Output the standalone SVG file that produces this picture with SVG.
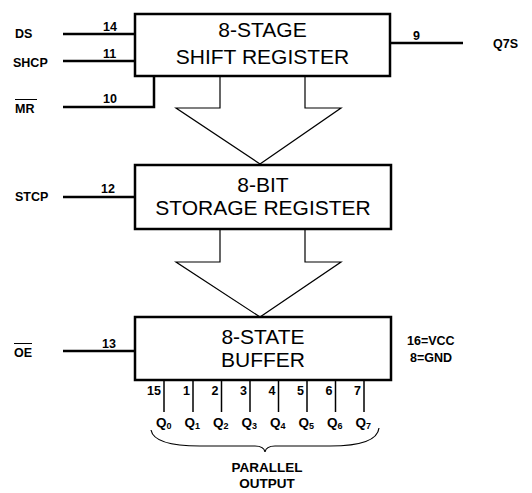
<svg xmlns="http://www.w3.org/2000/svg" width="532" height="493" viewBox="0 0 532 493">
<style>
.box{fill:#fff;stroke:#000;stroke-width:2.5}
.w{stroke:#000;stroke-width:2.5;fill:none}
.t{stroke:#000;stroke-width:1.2;fill:none}
.big{font-family:"Liberation Sans",Arial,sans-serif;font-size:21px;text-anchor:middle;fill:#000}
.lb{font-family:"Liberation Sans",Arial,sans-serif;font-size:12.5px;font-weight:bold;fill:#000}
.q{font-size:13.5px}
.sub{font-size:9px}
.po{font-size:13.5px}
.mid{text-anchor:middle}
.end{text-anchor:end}
</style>
<rect width="532" height="493" fill="#fff"/>
<g id="connectors">
  <line class="w" x1="63" y1="34" x2="135" y2="34"/>
  <line class="w" x1="63" y1="61" x2="135" y2="61"/>
  <polyline class="w" points="63,107 154,107 154,76"/>
  <line class="w" x1="390" y1="43" x2="463" y2="43"/>
  <line class="w" x1="63" y1="197" x2="135" y2="197"/>
  <line class="w" x1="63" y1="351" x2="135" y2="351"/>
  <polygon class="t" points="220,76 220,108 176,108 260,164 341,108 305,108 305,76"/>
  <polygon class="t" points="220,229 220,262 176,262 260,317 341,262 305,262 305,229"/>
  <g stroke="#000" stroke-width="1.5">
    <line x1="164" y1="380" x2="164" y2="412"/>
    <line x1="193" y1="380" x2="193" y2="412"/>
    <line x1="221.5" y1="380" x2="221.5" y2="412"/>
    <line x1="250" y1="380" x2="250" y2="412"/>
    <line x1="278.5" y1="380" x2="278.5" y2="412"/>
    <line x1="307" y1="380" x2="307" y2="412"/>
    <line x1="335.5" y1="380" x2="335.5" y2="412"/>
    <line x1="364" y1="380" x2="364" y2="412"/>
  </g>
  <path class="t" d="M151,430 Q154,446 200,446 L255,446 Q264,446 265,452 Q266,446 275,446 L330,446 Q377,446 379,428"/>
</g>
<g id="shift-register">
  <rect class="box" x="135" y="14" width="255" height="62"/>
  <text class="big" x="262.5" y="37">8-STAGE</text>
  <text class="big" x="262.5" y="64">SHIFT REGISTER</text>
</g>
<g id="storage-register">
  <rect class="box" x="135" y="165" width="256" height="64"/>
  <text class="big" x="263" y="191.5">8-BIT</text>
  <text class="big" x="263" y="215">STORAGE REGISTER</text>
</g>
<g id="buffer">
  <rect class="box" x="135" y="317" width="256" height="63"/>
  <text class="big" x="263" y="343.5">8-STATE</text>
  <text class="big" x="263" y="367">BUFFER</text>
</g>
<g id="labels">
  <text class="lb" x="15" y="38">DS</text>
  <text class="lb" x="13" y="67">SHCP</text>
  <text class="lb" x="15" y="113">MR</text>
  <line x1="15" y1="99.5" x2="37" y2="99.5" stroke="#000" stroke-width="1"/>
  <text class="lb" x="103" y="31">14</text>
  <text class="lb" x="103" y="58">11</text>
  <text class="lb" x="103" y="103">10</text>
  <text class="lb" x="413" y="40">9</text>
  <text class="lb" x="493" y="48">Q7S</text>
  <text class="lb" x="15" y="201">STCP</text>
  <text class="lb" x="101" y="193">12</text>
  <text class="lb" x="14" y="357">OE</text>
  <line x1="14" y1="343.5" x2="32" y2="343.5" stroke="#000" stroke-width="1"/>
  <text class="lb" x="102" y="348">13</text>
  <text class="lb" x="407" y="345">16=VCC</text>
  <text class="lb" x="410" y="362">8=GND</text>
  <text class="lb end" x="161" y="395">15</text>
  <text class="lb end" x="190" y="395">1</text>
  <text class="lb end" x="218.5" y="395">2</text>
  <text class="lb end" x="247" y="395">3</text>
  <text class="lb end" x="275.5" y="395">4</text>
  <text class="lb end" x="304" y="395">5</text>
  <text class="lb end" x="332.5" y="395">6</text>
  <text class="lb end" x="361" y="395">7</text>
  <text class="lb q" x="156" y="427">Q<tspan class="sub" dy="2">0</tspan></text>
  <text class="lb q" x="184.5" y="427">Q<tspan class="sub" dy="2">1</tspan></text>
  <text class="lb q" x="213" y="427">Q<tspan class="sub" dy="2">2</tspan></text>
  <text class="lb q" x="241.5" y="427">Q<tspan class="sub" dy="2">3</tspan></text>
  <text class="lb q" x="270" y="427">Q<tspan class="sub" dy="2">4</tspan></text>
  <text class="lb q" x="298.5" y="427">Q<tspan class="sub" dy="2">5</tspan></text>
  <text class="lb q" x="327" y="427">Q<tspan class="sub" dy="2">6</tspan></text>
  <text class="lb q" x="355.5" y="427">Q<tspan class="sub" dy="2">7</tspan></text>
  <text class="lb po mid" x="267" y="472">PARALLEL</text>
  <text class="lb po mid" x="267" y="488">OUTPUT</text>
</g>
</svg>
